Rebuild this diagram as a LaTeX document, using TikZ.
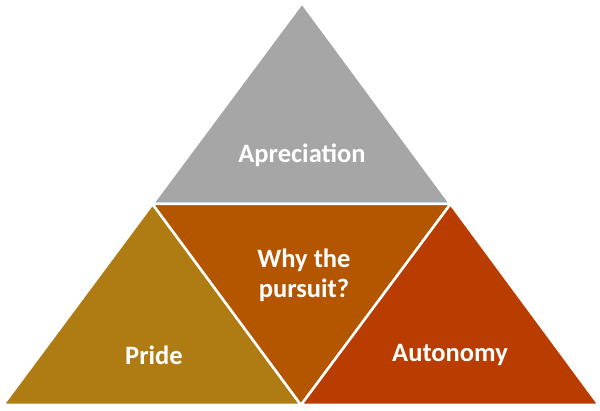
\documentclass[tikz,border=0pt]{standalone}
\usepackage{fontspec}
\setmainfont{Carlito}
\usepackage{xcolor}
\usetikzlibrary{calc}
\definecolor{apgray}{RGB}{166,166,166}
\definecolor{pridegold}{RGB}{175,124,20}
\definecolor{whyrust}{RGB}{180,86,0}
\definecolor{autored}{RGB}{185,60,0}
\tikzset{
	piece/.style={draw=white, line width=2.5pt, line join=miter},
	word/.style={text=white, font=\fontsize{26.5}{30}\selectfont\bfseries, align=center}
}

\begin{document}
\begin{tikzpicture}[x=1pt,y=1pt]
			\useasboundingbox (0,0) rectangle (600,411);
			\coordinate (top) at (302,408);
			\coordinate (left) at (3,6);
			\coordinate (right) at (599,6);
			\coordinate (ml) at ($(top)!0.5!(left)$);
			\coordinate (mr) at ($(top)!0.5!(right)$);
			\coordinate (mb) at ($(left)!0.5!(right)$);
			\fill[apgray, piece] (top) -- (ml) -- (mr) -- cycle;
			\fill[pridegold, piece] (ml) -- (left) -- (mb) -- cycle;
			\fill[whyrust, piece] (ml) -- (mr) -- (mb) -- cycle;
			\fill[autored, piece] (mr) -- (mb) -- (right) -- cycle;
			\node[word] (apreciation) at (302,256) {Apreciation};
			\node[word] (why) at (304,136) {Why the\\pursuit?};
			\node[word] (pride) at (154,56) {Pride};
			\node[word] (autonomy) at (450,56) {Autonomy};
		\end{tikzpicture}
\end{document}
